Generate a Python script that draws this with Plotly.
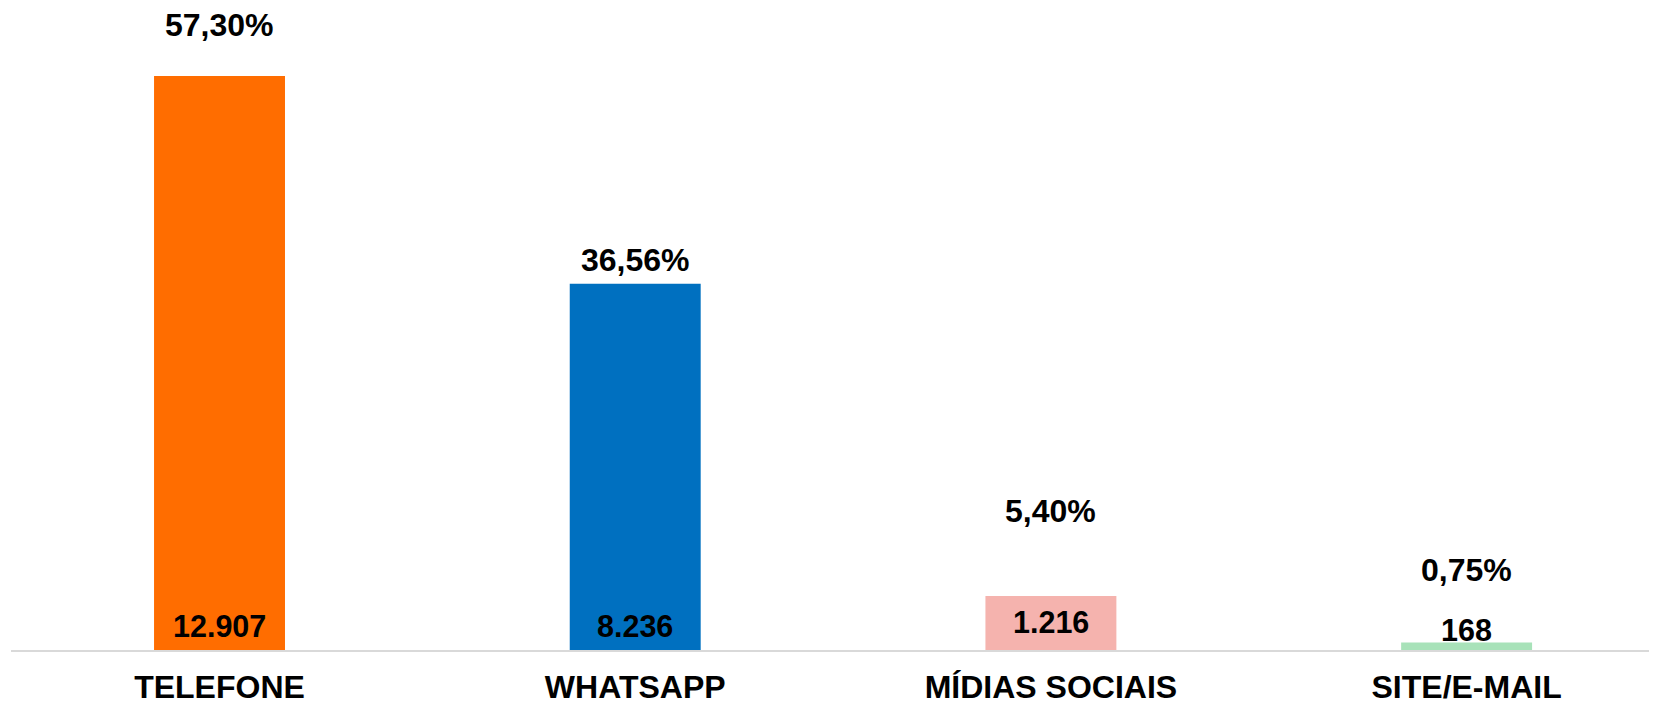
import plotly.graph_objects as go

categories = ["TELEFONE", "WHATSAPP", "MÍDIAS SOCIAIS", "SITE/E-MAIL"]
counts = [12907, 8236, 1216, 168]
count_labels = ["12.907", "8.236", "1.216", "168"]
percent_labels = ["57,30%", "36,56%", "5,40%", "0,75%"]

bar_colors = ["#FF6D00", "#0070C0", "#F5B3AE", "#A8E2B9"]
# pixel gaps between label glyphs and bar top / baseline (style only)
pct_gap = [39, 12, 73, 61]
cnt_gap = [13, 13, 17, 9]
GLYPH_PAD = 8

FONT = "Arial, Liberation Sans, sans-serif"

fig = go.Figure()
fig.add_trace(go.Bar(
    x=categories, y=counts, marker=dict(color=bar_colors, line=dict(width=0)),
    width=0.315, hoverinfo="skip",
))

for i, cat in enumerate(categories):
    fig.add_annotation(x=cat, y=counts[i], text=f"<b>{percent_labels[i]}</b>",
                       showarrow=False, yanchor="bottom", xanchor="center",
                       yshift=pct_gap[i] - GLYPH_PAD,
                       font=dict(family=FONT, size=32, color="#000000"))
    fig.add_annotation(x=cat, y=0, text=f"<b>{count_labels[i]}</b>",
                       showarrow=False, yanchor="bottom", xanchor="center",
                       yshift=cnt_gap[i] - GLYPH_PAD,
                       font=dict(family=FONT, size=30.5, color="#000000"))

fig.update_layout(
    width=1649, height=696,
    margin=dict(l=3, r=0, t=0, b=54, autoexpand=False),
    paper_bgcolor="white", plot_bgcolor="white",
    showlegend=False,
    xaxis=dict(
        range=[-0.5016, 3.458], showgrid=False, zeroline=False,
        showline=True, linecolor="#D9D9D9", linewidth=2,
        ticks="", automargin=False, ticklabelstandoff=8,
        tickfont=dict(family=FONT, size=32, color="#000000"),
        tickvals=categories, ticktext=[f"<b>{c}</b>" for c in categories],
    ),
    yaxis=dict(
        range=[0, 14436], visible=False, showgrid=False, zeroline=False,
        automargin=False,
    ),
)

fig.write_html("out.html")
